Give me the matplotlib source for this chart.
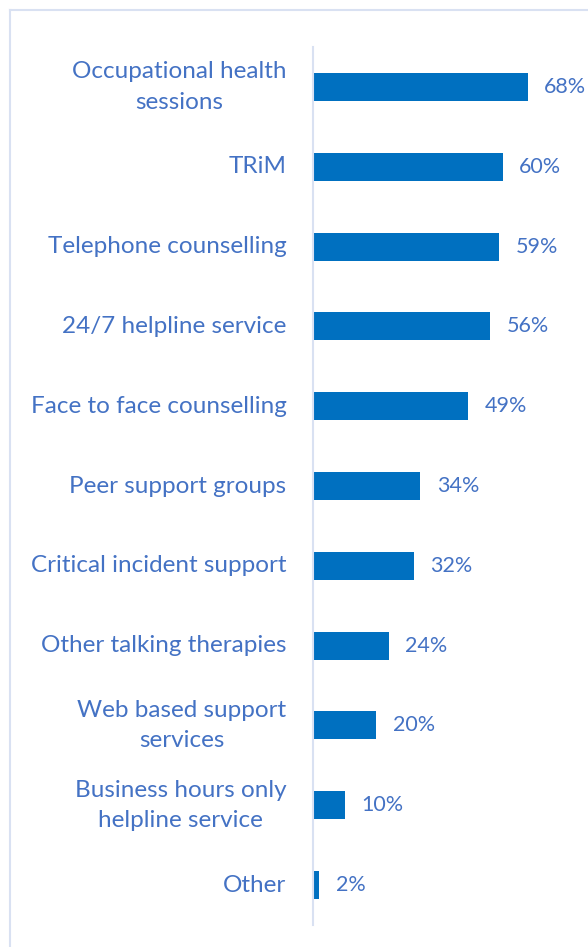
import matplotlib

matplotlib.use("Agg")

import matplotlib.pyplot as plt
from matplotlib.lines import Line2D

CATEGORIES = [
    "Occupational health\nsessions",
    "TRiM",
    "Telephone counselling",
    "24/7 helpline service",
    "Face to face counselling",
    "Peer support groups",
    "Critical incident support",
    "Other talking therapies",
    "Web based support\nservices",
    "Business hours only\nhelpline service",
    "Other",
]
PERCENTS = [68, 60, 59, 56, 49, 34, 32, 24, 20, 10, 2]

BAR_COLOR = "#0070C0"
TEXT_COLOR = "#4472C4"
LINE_COLOR = "#D9E1F2"

plt.rcParams["font.family"] = ["Lato", "DejaVu Sans"]

W, H = 588, 947
fig = plt.figure(figsize=(W / 100, H / 100), dpi=100)

# frame around the chart: only top and left edges fall inside the canvas
fig.add_artist(Line2D([10 / W, 1], [1 - 10 / H, 1 - 10 / H], color=LINE_COLOR, lw=1.5))
fig.add_artist(Line2D([10 / W, 10 / W], [0, 1 - 10 / H], color=LINE_COLOR, lw=1.5))

left, right = 313 / W, 1.0
top, bottom = 1 - 47 / H, 1 - 925 / H
ax = fig.add_axes([left, bottom, right - left, top - bottom])

n = len(CATEGORIES)
y = list(range(n))
ax.barh(y, PERCENTS, height=0.35, color=BAR_COLOR)
ax.set_ylim(n - 0.5, -0.5)
ax.set_xlim(0, (W - 313) / 3.16)

for yi, v in zip(y, PERCENTS):
    ax.text(v + 5.2, yi, f"{v}%", va="center", ha="left", fontsize=15.5, color=TEXT_COLOR)

ax.set_yticks(y)
ax.set_yticklabels(CATEGORIES, fontsize=17.5, color=TEXT_COLOR, linespacing=1.55,
                   ha="right", va="center", multialignment="center")
ax.tick_params(axis="y", length=0, pad=19)
ax.set_xticks([])
for side in ["top", "right", "bottom"]:
    ax.spines[side].set_visible(False)
ax.spines["left"].set_color(LINE_COLOR)
ax.spines["left"].set_linewidth(1.5)

fig.savefig("out.png", dpi=100)
